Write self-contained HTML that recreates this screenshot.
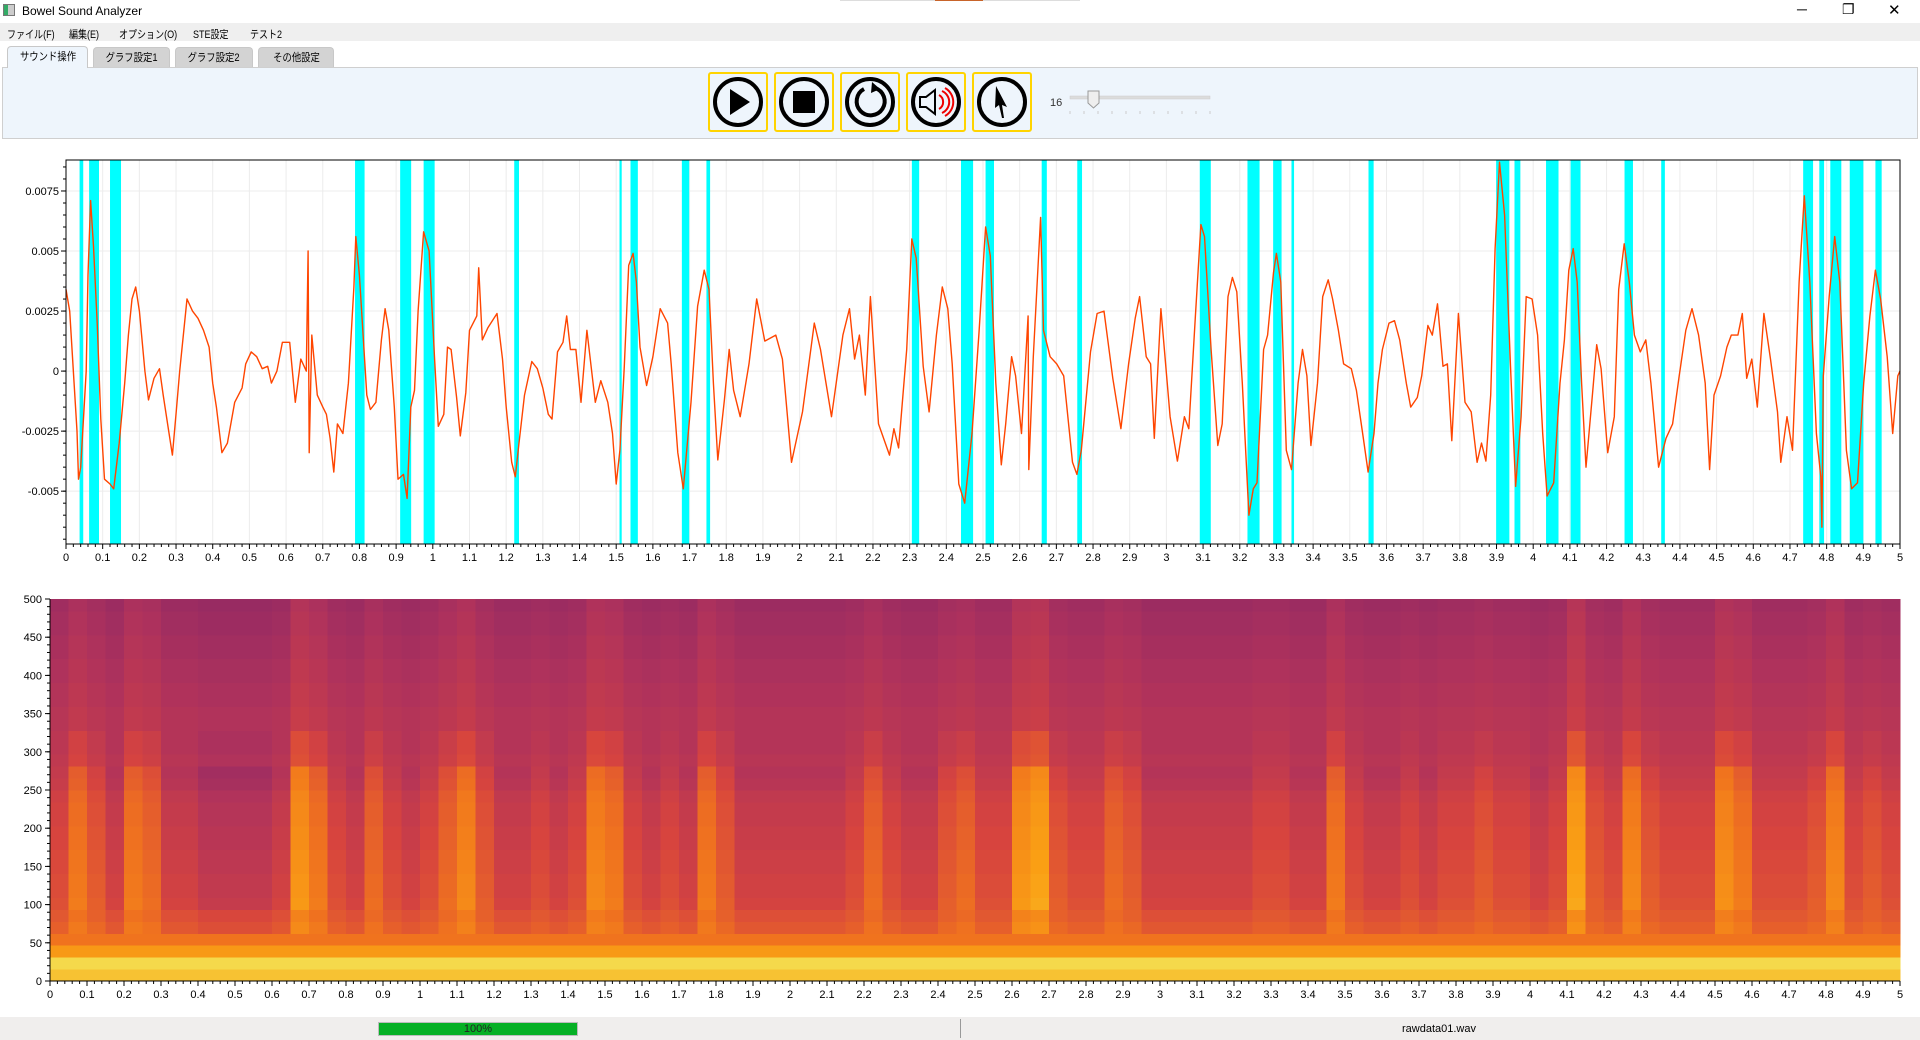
<!DOCTYPE html>
<html><head><meta charset="utf-8">
<style>
*{margin:0;padding:0;box-sizing:border-box}
body{width:1920px;height:1040px;background:#fff;font-family:"Liberation Sans","Noto Sans CJK JP",sans-serif;position:relative;overflow:hidden;color:#000}
.abs{position:absolute}
.menu span{position:absolute;top:3px;font-size:11px;transform:scaleX(0.82);transform-origin:left center;white-space:nowrap}
.tab{position:absolute;top:47px;height:20px;font-size:11px;text-align:center;line-height:20px;border-radius:4px 4px 0 0;background:#d3d3d3;border:1px solid #c8c8c8;border-bottom:none;white-space:nowrap;overflow:hidden}
.tab span{display:inline-block;transform:scaleX(0.85)}
.btn{position:absolute;top:72px;width:60px;height:60px;border:2px solid #ffd400;border-radius:3px;background:#eef5fc}
</style></head><body>
<div class="abs" style="left:0;top:0;width:1920px;height:22px;background:#fff">
  <div class="abs" style="left:3px;top:4px;width:12px;height:12px;border:1px solid #777;background:linear-gradient(90deg,#3a6 0 40%,#ccc 40%)"></div>
  <span class="abs" style="left:22px;top:4px;font-size:12px">Bowel Sound Analyzer</span>
  <div class="abs" style="left:840px;top:0;width:240px;height:1px;background:#ddd"></div>
  <div class="abs" style="left:935px;top:0;width:48px;height:1px;background:#c8642a"></div>
  <span class="abs" style="left:1797px;top:1px;font-size:14px">─</span>
  <span class="abs" style="left:1842px;top:1px;font-size:14px">❐</span>
  <span class="abs" style="left:1888px;top:1px;font-size:15px">✕</span>
</div>
<div class="abs menu" style="left:0;top:23px;width:1920px;height:18px;background:#efefef">
  <span style="left:7px">ファイル(F)</span>
  <span style="left:69px">編集(E)</span>
  <span style="left:119px">オプション(O)</span>
  <span style="left:193px">STE設定</span>
  <span style="left:250px">テスト2</span>
</div>
<div class="tab" style="left:7px;width:81px;background:#eef5fc;top:46px;height:22px;z-index:2"><span>サウンド操作</span></div>
<div class="tab" style="left:93px;width:77px"><span>グラフ設定1</span></div>
<div class="tab" style="left:175px;width:78px"><span>グラフ設定2</span></div>
<div class="tab" style="left:258px;width:76px"><span>その他設定</span></div>
<div class="abs" style="left:2px;top:67px;width:1916px;height:72px;background:#eef5fc;border:1px solid #cfcfcf"></div>
<div class="btn" style="left:708px"><svg width="56" height="56"><circle cx="28" cy="28" r="23" fill="none" stroke="#000" stroke-width="4"/><polygon points="20,15 20,41 40,28" fill="#000"/></svg></div>
<div class="btn" style="left:774px"><svg width="56" height="56"><circle cx="28" cy="28" r="23" fill="none" stroke="#000" stroke-width="4"/><rect x="17" y="17" width="22" height="22" fill="#000"/></svg></div>
<div class="btn" style="left:840px"><svg width="56" height="56"><circle cx="28" cy="28" r="23" fill="none" stroke="#000" stroke-width="4"/><path d="M33 14 A14 14 0 1 1 22 15" fill="none" stroke="#000" stroke-width="4"/><polygon points="30,8 38,15 29,19" fill="#000"/></svg></div>
<div class="btn" style="left:906px"><svg width="56" height="56"><circle cx="28" cy="28" r="23" fill="none" stroke="#000" stroke-width="4"/><polygon points="12,23 18,23 27,16 27,40 18,33 12,33" fill="none" stroke="#000" stroke-width="2"/><path d="M31 21 A8 8 0 0 1 31 35 M34 17 A12 12 0 0 1 34 39 M37 14 A16 16 0 0 1 37 42" fill="none" stroke="#e00" stroke-width="2"/></svg></div>
<div class="btn" style="left:972px"><svg width="56" height="56"><circle cx="28" cy="28" r="23" fill="none" stroke="#000" stroke-width="4"/><polygon points="22,12 33,33 28,31 30,44 28,44 25,31 21,34" fill="#000"/></svg></div>
<span class="abs" style="left:1050px;top:97px;font-size:11px;color:#333">16</span>
<svg class="abs" style="left:1068px;top:88px" width="146" height="30">
  <rect x="2" y="8" width="140" height="3" fill="#dcdcdc" stroke="#ccc" stroke-width="0.5"/>
  <polygon points="20,3 31,3 31,15 25.5,20 20,15" fill="#eee" stroke="#999"/>
  <g stroke="#ccc"><line x1="2" y1="23" x2="2" y2="26"/><line x1="16" y1="23" x2="16" y2="26"/><line x1="30" y1="23" x2="30" y2="26"/><line x1="44" y1="23" x2="44" y2="26"/><line x1="58" y1="23" x2="58" y2="26"/><line x1="72" y1="23" x2="72" y2="26"/><line x1="86" y1="23" x2="86" y2="26"/><line x1="100" y1="23" x2="100" y2="26"/><line x1="114" y1="23" x2="114" y2="26"/><line x1="128" y1="23" x2="128" y2="26"/><line x1="142" y1="23" x2="142" y2="26"/></g>
</svg>

<svg class="abs" id="wave" style="left:0;top:140px" width="1920" height="440"></svg>
<svg class="abs" id="spec" style="left:0;top:585px" width="1920" height="425"></svg>

<div class="abs" style="left:0;top:1017px;width:1920px;height:23px;background:#f0eeed"></div>
<div class="abs" style="left:378px;top:1022px;width:200px;height:14px;background:#06b025;border:1px solid #bcbcbc;font-size:11px;text-align:center;line-height:12px;color:#222">100%</div>
<div class="abs" style="left:960px;top:1019px;width:1px;height:19px;background:#999"></div>
<span class="abs" style="left:1402px;top:1023px;font-size:11px">rawdata01.wav</span>

<script>
// ---- waveform data ----
const waveTimes=[0,0.01,0.03,0.034,0.04,0.055,0.06,0.067,0.075,0.085,0.095,0.105,0.12,0.13,0.145,0.16,0.17,0.18,0.19,0.2,0.215,0.225,0.24,0.255,0.265,0.28,0.29,0.3,0.31,0.33,0.345,0.36,0.375,0.39,0.4,0.41,0.425,0.44,0.46,0.48,0.49,0.505,0.52,0.535,0.55,0.56,0.575,0.59,0.61,0.625,0.64,0.655,0.66,0.663,0.67,0.685,0.7,0.71,0.72,0.73,0.74,0.755,0.77,0.785,0.79,0.8,0.82,0.83,0.845,0.86,0.87,0.88,0.895,0.905,0.92,0.93,0.94,0.95,0.96,0.975,0.99,1.005,1.015,1.03,1.04,1.05,1.065,1.075,1.09,1.1,1.12,1.125,1.135,1.15,1.175,1.19,1.2,1.215,1.225,1.235,1.25,1.27,1.285,1.3,1.315,1.325,1.34,1.355,1.365,1.375,1.39,1.404,1.42,1.443,1.458,1.477,1.49,1.5,1.51,1.522,1.534,1.546,1.555,1.565,1.583,1.6,1.62,1.64,1.65,1.668,1.683,1.704,1.722,1.74,1.753,1.765,1.777,1.795,1.808,1.82,1.838,1.862,1.883,1.905,1.935,1.953,1.978,2.008,2.04,2.057,2.087,2.118,2.136,2.15,2.163,2.179,2.193,2.215,2.245,2.257,2.27,2.292,2.306,2.318,2.337,2.353,2.373,2.389,2.404,2.416,2.434,2.45,2.47,2.489,2.507,2.52,2.535,2.55,2.562,2.578,2.589,2.605,2.623,2.625,2.637,2.657,2.665,2.683,2.701,2.72,2.744,2.756,2.768,2.793,2.811,2.83,2.854,2.876,2.897,2.915,2.927,2.945,2.957,2.967,2.985,3.01,3.03,3.049,3.061,3.079,3.094,3.104,3.122,3.14,3.152,3.168,3.18,3.192,3.207,3.225,3.237,3.247,3.265,3.276,3.292,3.3,3.312,3.327,3.341,3.359,3.371,3.383,3.394,3.412,3.426,3.441,3.453,3.469,3.483,3.504,3.518,3.536,3.55,3.566,3.577,3.589,3.607,3.622,3.636,3.654,3.666,3.684,3.696,3.713,3.725,3.739,3.754,3.766,3.778,3.796,3.814,3.831,3.847,3.859,3.871,3.884,3.896,3.908,3.922,3.938,3.952,3.967,3.981,3.997,4.012,4.026,4.038,4.056,4.073,4.085,4.097,4.109,4.12,4.132,4.144,4.162,4.173,4.185,4.203,4.221,4.233,4.248,4.262,4.276,4.292,4.307,4.321,4.342,4.362,4.38,4.398,4.416,4.433,4.451,4.469,4.481,4.493,4.511,4.528,4.54,4.558,4.57,4.582,4.596,4.611,4.629,4.647,4.666,4.675,4.692,4.707,4.725,4.739,4.754,4.772,4.784,4.787,4.791,4.807,4.822,4.836,4.854,4.868,4.884,4.901,4.918,4.933,4.947,4.965,4.98,4.994,5.0];
const waveValues=[3.4,2.5,-2.5,-4.5,-4.0,0,4.0,7.1,5.2,2,-2,-4.5,-4.7,-4.9,-3,-0.5,1.5,3.0,3.5,2.5,0,-1.2,-0.3,0.1,-1.0,-2.5,-3.5,-1.8,0,3.0,2.5,2.2,1.7,1.0,-0.5,-1.5,-3.4,-3.0,-1.3,-0.7,0.3,0.8,0.6,0.1,0.2,-0.5,0,1.2,1.2,-1.3,0.5,0,5.0,-3.4,1.5,-1.0,-1.5,-1.8,-2.8,-4.2,-2.2,-2.6,-0.5,3.5,5.6,4.0,-1.0,-1.6,-1.3,1.3,2.6,1.7,-1.5,-4.5,-4.3,-5.3,-1.5,-0.8,2.5,5.8,5.0,0.5,-2.3,-1.8,1.0,0.9,-1.1,-2.7,-0.9,1.7,2.3,4.3,1.3,1.8,2.4,0.5,-1.5,-3.8,-4.4,-3.0,-1.0,0.4,0.1,-0.7,-1.8,-2.0,0.8,1.2,2.3,0.9,0.9,-1.3,1.7,-1.3,-0.4,-1.3,-2.6,-4.7,-3.3,0.2,4.4,4.9,3.7,1.0,-0.6,0.6,2.6,2.0,0.3,-3.4,-4.9,-1.3,2.7,4.2,3.4,-0.5,-3.7,-1.2,0.9,-0.8,-1.9,0.3,3.0,1.25,1.5,0.5,-3.8,-1.7,2.0,0.9,-1.9,1.5,2.6,0.5,1.5,-1.0,3.1,-2.2,-3.5,-2.4,-3.2,0.9,5.5,4.7,0.2,-1.7,1.5,3.5,2.6,0.3,-4.7,-5.5,-2.6,1.6,6.0,4.8,-0.5,-3.9,-2.2,0.6,-0.2,-2.6,2.3,-4.1,0.6,6.4,1.7,0.6,0.3,-0.2,-3.8,-4.3,-3.3,0.8,2.4,2.5,-0.3,-2.4,0.3,2.2,3.1,0.6,0.3,-2.8,2.6,-1.9,-3.75,-1.9,-2.4,2.3,6.1,5.6,0.9,-3.1,-2.2,3.1,3.9,3.3,-0.5,-6.0,-4.9,-4.65,0.9,1.5,4.1,4.9,3.7,-3.3,-4.1,-0.5,0.9,-0.2,-3.1,-0.5,3.1,3.8,3.0,1.7,0.3,0.1,-0.8,-2.7,-4.2,-2.6,-0.5,0.9,2.0,2.1,1.3,-0.5,-1.5,-1.1,-0.2,1.9,1.5,2.8,0.2,0.3,-2.9,2.4,-1.3,-1.7,-3.8,-3.0,-3.75,-1.0,5.1,8.7,6.5,0.2,-4.8,-1.9,3.1,3.0,1.5,-2.6,-5.2,-4.65,-0.5,1.3,4.2,5.1,3.7,-0.5,-4.0,-0.9,1.1,0.1,-3.4,-1.9,3.4,5.3,3.7,1.5,0.8,1.3,-0.5,-4.0,-2.8,-2.2,-0.2,1.7,2.6,1.5,-0.5,-4.1,-1.0,-0.2,1.0,1.5,1.5,2.4,-0.3,0.5,-1.5,2.4,0.5,-1.7,-3.8,-1.9,-3.3,3.7,7.3,3.7,-2.6,-4.4,-6.5,-0.2,3.1,5.6,3.7,-3.3,-4.9,-4.65,-0.5,2.3,4.2,3.0,0.6,-2.6,-0.2,0];
const bandStarts=[0.037,0.063,0.12,0.788,0.911,0.975,1.222,1.509,1.539,1.679,1.746,2.306,2.44,2.507,2.66,2.757,3.091,3.221,3.291,3.341,3.551,3.899,3.949,4.035,4.102,4.249,4.349,4.736,4.78,4.81,4.863,4.933];
const bandEnds=[0.047,0.09,0.15,0.814,0.941,1.005,1.235,1.515,1.559,1.699,1.756,2.326,2.473,2.53,2.674,2.77,3.121,3.254,3.314,3.348,3.565,3.935,3.965,4.069,4.129,4.272,4.359,4.763,4.793,4.84,4.9,4.95];
const xTickLabels=["0","0.1","0.2","0.3","0.4","0.5","0.6","0.7","0.8","0.9","1","1.1","1.2","1.3","1.4","1.5","1.6","1.7","1.8","1.9","2","2.1","2.2","2.3","2.4","2.5","2.6","2.7","2.8","2.9","3","3.1","3.2","3.3","3.4","3.5","3.6","3.7","3.8","3.9","4","4.1","4.2","4.3","4.4","4.5","4.6","4.7","4.8","4.9","5"];
const waveYTicks=[0.0075,0.005,0.0025,0,-0.0025,-0.005];
const waveYTickLabels=["0.0075","0.005","0.0025","0","-0.0025","-0.005"];
// ---- spectrogram data ----
const specFreqTicks=[0,50,100,150,200,250,300,350,400,450,500];
// base level of each 15.6 Hz row, bottom (0 Hz) to top (500 Hz)
const rowBase=[0.80,0.86,0.70,0.60,0.55,0.53,0.51,0.50,0.50,0.49,0.49,0.48,0.48,0.47,0.47,0.46,0.44,0.43,0.42,0.41,0.41,0.40,0.40,0.39,0.39,0.38,0.38,0.37,0.37,0.36,0.36,0.35];
// bright-event energy per 0.05 s column (100 columns)
const colEnergy=[0.3,0.6,0.4,0.2,0.6,0.5,0.2,0.2,0.1,0.1,0.1,0.1,0.2,0.8,0.6,0.3,0.2,0.5,0.3,0.2,0.3,0.5,0.7,0.4,0.2,0.2,0.3,0.2,0.3,0.7,0.6,0.3,0.2,0.3,0.2,0.6,0.4,0.2,0.2,0.2,0.2,0.2,0.2,0.3,0.5,0.3,0.2,0.2,0.4,0.5,0.3,0.3,0.8,0.9,0.4,0.3,0.3,0.5,0.4,0.2,0.2,0.2,0.2,0.2,0.2,0.3,0.3,0.2,0.2,0.6,0.3,0.2,0.2,0.3,0.2,0.3,0.3,0.4,0.3,0.3,0.2,0.3,0.9,0.4,0.3,0.7,0.4,0.3,0.3,0.3,0.75,0.6,0.3,0.3,0.3,0.4,0.7,0.3,0.4,0.3];

const NS="http://www.w3.org/2000/svg";
function mk(parent,tag,attrs){const e=document.createElementNS(NS,tag);for(const k in attrs)e.setAttribute(k,attrs[k]);parent.appendChild(e);return e;}

// ----- waveform chart -----
(function(){
const svg=document.getElementById('wave');
const L=66,R=1900,T=20,B=404;
const yMax=0.00879,yMin=-0.0072,xMin=0,xMax=5;
const xs=t=>L+(t-xMin)/(xMax-xMin)*(R-L);
const ys=v=>T+(yMax-v)/(yMax-yMin)*(B-T);
const grid=mk(svg,'g',{});


xTickLabels.forEach((lab,i)=>{const x=xs(parseFloat(lab));
 mk(grid,'line',{x1:x,x2:x,y1:T,y2:B,stroke:'#ececec','stroke-width':1});
 const tl=mk(svg,'text',{x:x,y:B+17,'font-size':11,'text-anchor':'middle','font-family':'Liberation Sans'});
 tl.textContent=lab;
 
 
 mk(svg,'line',{x1:x,x2:x,y1:B,y2:B+5,stroke:'#000'});
 for(let m=1;m<5&&i<xTickLabels.length-1;m++){const xm=xs(parseFloat(lab)+m*0.02);mk(svg,'line',{x1:xm,x2:xm,y1:B,y2:B+3,stroke:'#000'});}
});
waveYTicks.forEach((v,i)=>{const y=ys(v);
 mk(grid,'line',{x1:L,x2:R,y1:y,y2:y,stroke:'#ececec'});
 mk(svg,'line',{x1:L-5,x2:L,y1:y,y2:y,stroke:'#000'});
 const tl=mk(svg,'text',{x:L-7,y:y+4,'font-size':11,'text-anchor':'end','font-family':'Liberation Sans'});
 tl.textContent=waveYTickLabels[i];
 
 
});
for(let v=-0.007;v<=0.0087;v+=0.0005){const y=ys(v);mk(svg,'line',{x1:L-3,x2:L,y1:y,y2:y,stroke:'#000'});}
bandStarts.forEach((s,i)=>{
 const r=mk(svg,'rect',{x:xs(s),y:T,width:Math.max(1.5,xs(bandEnds[i])-xs(s)),height:B-T,fill:'#00ffff'});
 
 
});
const pts=waveTimes.map((t,i)=>xs(t).toFixed(1)+','+ys(waveValues[i]*1e-3).toFixed(1)).join(' ');
const pl=mk(svg,'polyline',{points:pts,fill:'none',stroke:'#ff4500','stroke-width':1.4,'stroke-linejoin':'round'});


const fr=mk(svg,'rect',{x:L,y:T,width:R-L,height:B-T,fill:'none',stroke:'#000','stroke-width':1});


})();

// ----- spectrogram -----
(function(){
const svg=document.getElementById('spec');
const L=50,R=1900,T=14,B=396;
const xs=t=>L+t/5*(R-L);
const ys=f=>B-f/500*(B-T);
const stops=[[0,[60,15,110]],[0.25,[110,30,110]],[0.38,[175,50,92]],[0.48,[215,68,62]],[0.6,[240,115,30]],[0.72,[250,160,20]],[0.85,[245,215,70]],[1,[245,245,150]]];
function col(v){v=Math.max(0,Math.min(1,v));for(let i=1;i<stops.length;i++){if(v<=stops[i][0]){const a=stops[i-1],b=stops[i],f=(v-a[0])/(b[0]-a[0]);return 'rgb('+a[1].map((c,k)=>Math.round(c+(b[1][k]-c)*f)).join(',')+')';}}return 'rgb(245,245,150)';}
const g=mk(svg,'g',{'shape-rendering':'crispEdges'});
const nR=rowBase.length,nC=colEnergy.length,rh=500/nR,cw=5/nC;
for(let c=0;c<nC;c++){for(let r=0;r<nR;r++){
 const f=r*rh;let resp=0;
 if(f>=90&&f<270)resp=0.38;else if(f>=50&&f<90)resp=0.22;else if(f>=270&&f<320)resp=0.18;else if(f>=320)resp=0.08;
 const v=rowBase[r]+(colEnergy[c]-0.3)*resp;
 const x0=xs(c*cw),x1=xs((c+1)*cw),y1=ys(f),y0=ys(f+rh);
 const cell=mk(g,'rect',{x:x0,y:y0,width:x1-x0+0.5,height:y1-y0+0.5,fill:col(v)});
 
 
}}
xTickLabels.forEach((lab,i)=>{const x=xs(parseFloat(lab));
 mk(svg,'line',{x1:x,x2:x,y1:B,y2:B+5,stroke:'#000'});
 for(let m=1;m<5&&i<xTickLabels.length-1;m++){const xm=xs(parseFloat(lab)+m*0.02);mk(svg,'line',{x1:xm,x2:xm,y1:B,y2:B+3,stroke:'#000'});}
 const tl=mk(svg,'text',{x:x,y:B+17,'font-size':11,'text-anchor':'middle','font-family':'Liberation Sans'});
 tl.textContent=lab;
 
 
});
specFreqTicks.forEach(f=>{const y=ys(f);
 mk(svg,'line',{x1:L-5,x2:L,y1:y,y2:y,stroke:'#000'});
 const tl=mk(svg,'text',{x:L-8,y:y+4,'font-size':11,'text-anchor':'end','font-family':'Liberation Sans'});
 tl.textContent=String(f);
 
 
});
for(let f=0;f<=500;f+=10){const y=ys(f);mk(svg,'line',{x1:L-3,x2:L,y1:y,y2:y,stroke:'#000'});}
mk(svg,'line',{x1:L,x2:L,y1:T,y2:B,stroke:'#000'});
mk(svg,'line',{x1:L,x2:R,y1:B,y2:B,stroke:'#000'});
})();
</script>
</body></html>
